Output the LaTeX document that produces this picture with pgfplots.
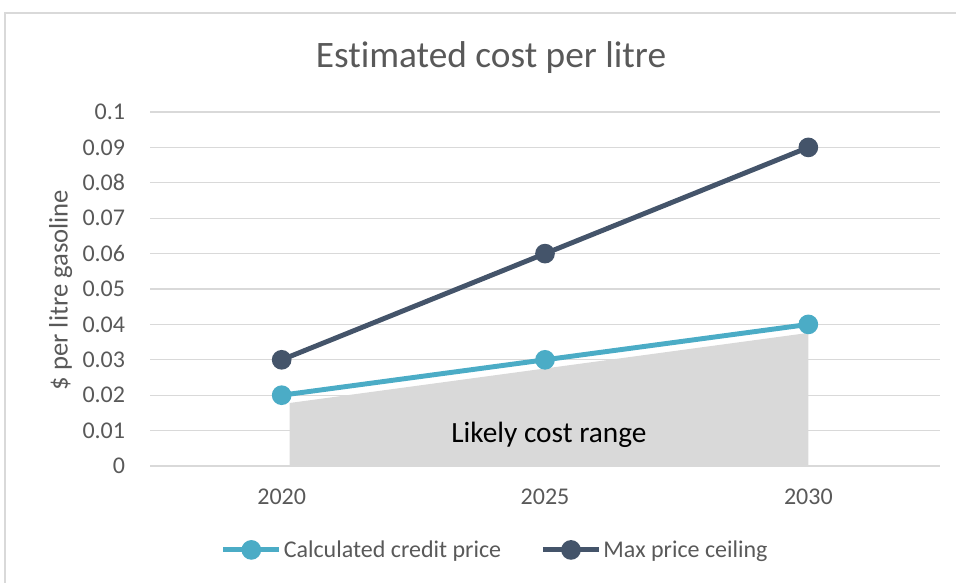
\documentclass[border=0pt]{standalone}
\usepackage{pgfplots}
\pgfplotsset{compat=1.18}
\usepackage{fontspec}
\setmainfont{Carlito}[Ligatures={NoCommon}]
\definecolor{cteal}{HTML}{4BACC6}
\definecolor{cdark}{HTML}{44546A}
\definecolor{gridgray}{HTML}{D9D9D9}
\definecolor{areagray}{HTML}{D9D9D9}
\definecolor{labelgray}{HTML}{595959}
\definecolor{bordergray}{HTML}{D9D9D9}
\begin{document}
\begin{tikzpicture}
\useasboundingbox (0,0) rectangle (717pt,-436.5pt);
\draw[bordergray, line width=1pt] (3.75pt,-9.75pt) rectangle (730pt,-450pt);
\node[font=\fontsize{28}{28}\selectfont, text=labelgray] at (368.25pt,-43.5pt) {Estimated cost per litre};
\node[font=\fontsize{20}{20}\selectfont, text=labelgray, rotate=90] at (45.5pt,-217.5pt) {\$ per litre gasoline};
\begin{axis}[
  at={(112.5pt,-349.5pt)}, anchor=south west,
  scale only axis, width=592.5pt, height=265.5pt,
  xmin=-0.5, xmax=2.5, ymin=0, ymax=0.1,
  xtick={0,1,2}, xticklabels={2020,2025,2030},
  ytick={0,0.01,0.02,0.03,0.04,0.05,0.06,0.07,0.08,0.09,0.1},
  yticklabels={0,0.01,0.02,0.03,0.04,0.05,0.06,0.07,0.08,0.09,0.1},
  ymajorgrids, grid style={gridgray, line width=1pt},
  axis line style={draw=none},
  major tick length=0pt,
  tick label style={font=\fontsize{18}{18}\selectfont, text=labelgray, inner sep=0pt},
  yticklabel shift=18.5pt,
  xticklabel shift=17pt,
  legend columns=2,
  legend style={at={(0.437,-0.237)}, anchor=center, draw=none, fill=none,
    font=\fontsize{18}{18}\selectfont, text=labelgray,
    nodes={inner xsep=1.5pt},
    /tikz/every even column/.append style={column sep=28pt}},
  legend image code/.code={\draw[mark repeat=2,mark phase=2,#1] plot coordinates {(0pt,0pt)(21pt,0pt)(42pt,0pt)};},
  clip=false,
]
\addplot[fill=areagray, draw=none, forget plot] coordinates {(0.03,0) (0.03,0.0178) (2.0,0.0376) (2.0,0)} \closedcycle;
\addplot[cteal, line width=3.7pt, mark=*, mark size=5.5pt, mark options={solid}] coordinates {(0,0.02) (1,0.03) (2,0.04)};
\addlegendentry{Calculated credit price}
\addplot[cdark, line width=3.7pt, mark=*, mark size=5.5pt, mark options={solid}] coordinates {(0,0.03) (1,0.06) (2,0.09)};
\addlegendentry{Max price ceiling}
\node[font=\fontsize{22}{22}\selectfont, text=black] at (axis cs:1.015,0.0088) {Likely cost range};
\end{axis}
\end{tikzpicture}
\end{document}
